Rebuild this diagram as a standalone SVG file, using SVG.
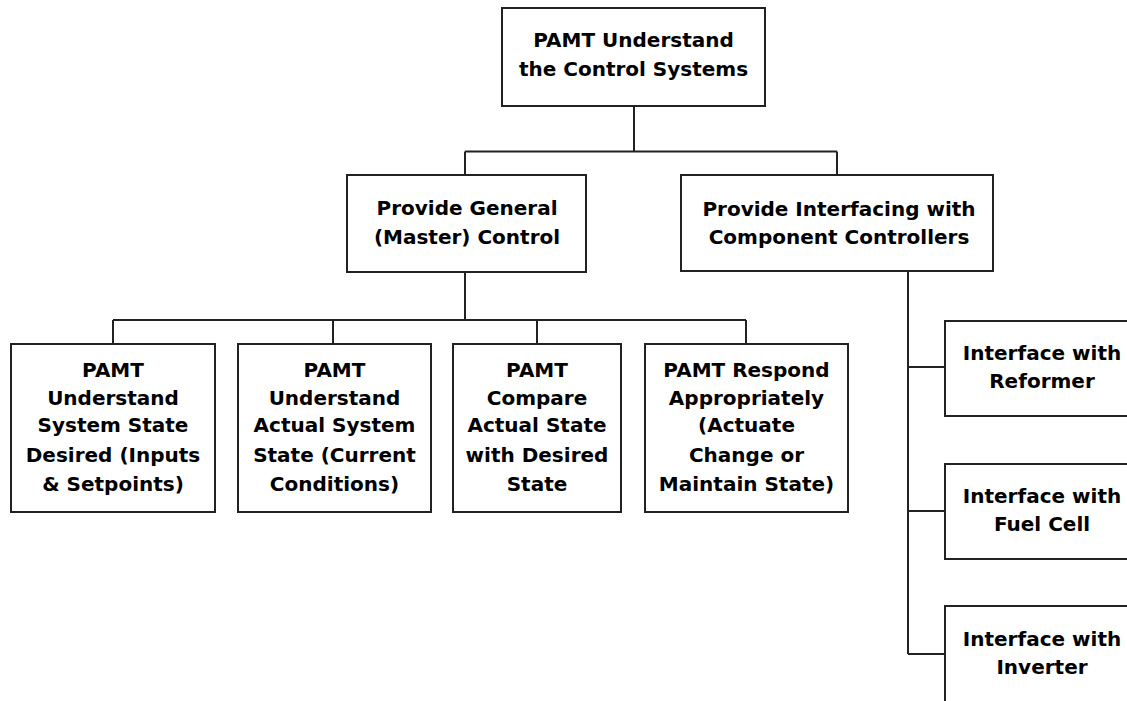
<svg xmlns="http://www.w3.org/2000/svg" width="1127" height="701" viewBox="0 0 1127 701">
  <style>
    .box { fill: #ffffff; stroke: #222222; stroke-width: 2; }
    .lbl { font-family: "DejaVu Sans", Verdana, sans-serif; font-weight: bold; font-size: 20px; fill: #000000; text-anchor: middle; }
    .wire { fill: none; stroke: #222222; stroke-width: 2; }
  </style>
  <rect width="1127" height="701" fill="#ffffff"/>

  <!-- connectors -->
  <g id="connectors">
    <path class="wire" d="M634,106 V151.5 M465,151.5 H837 M465,151.5 V175 M837,151.5 V175"/>
    <path class="wire" d="M465,272 V320 M113,320 H746 M113,320 V344 M333,320 V344 M537,320 V344 M746,320 V344"/>
    <path class="wire" d="M908,271 V654 M908,367 H945 M908,511 H945 M908,654 H945"/>
  </g>

  <g id="root">
    <rect class="box" x="502" y="8" width="263" height="98"/>
    <text class="lbl" x="633.5" y="47">PAMT Understand</text>
    <text class="lbl" x="633.5" y="76">the Control Systems</text>
  </g>

  <g id="general-control">
    <rect class="box" x="347" y="175" width="239" height="97"/>
    <text class="lbl" x="467" y="215">Provide General</text>
    <text class="lbl" x="467" y="243.5">(Master) Control</text>
  </g>

  <g id="interfacing">
    <rect class="box" x="681" y="175" width="312" height="96"/>
    <text class="lbl" x="839" y="216">Provide Interfacing with</text>
    <text class="lbl" x="839" y="243.5">Component Controllers</text>
  </g>

  <g id="desired-state">
    <rect class="box" x="11" y="344" width="204" height="168"/>
    <text class="lbl" x="113" y="377">PAMT</text>
    <text class="lbl" x="113" y="404.5">Understand</text>
    <text class="lbl" x="113" y="432">System State</text>
    <text class="lbl" x="113" y="462">Desired (Inputs</text>
    <text class="lbl" x="113" y="491">&amp; Setpoints)</text>
  </g>

  <g id="actual-state">
    <rect class="box" x="238" y="344" width="193" height="168"/>
    <text class="lbl" x="334.5" y="377">PAMT</text>
    <text class="lbl" x="334.5" y="404.5">Understand</text>
    <text class="lbl" x="334.5" y="432">Actual System</text>
    <text class="lbl" x="334.5" y="462">State (Current</text>
    <text class="lbl" x="334.5" y="491">Conditions)</text>
  </g>

  <g id="compare-state">
    <rect class="box" x="453" y="344" width="168" height="168"/>
    <text class="lbl" x="537" y="377">PAMT</text>
    <text class="lbl" x="537" y="404.5">Compare</text>
    <text class="lbl" x="537" y="432">Actual State</text>
    <text class="lbl" x="537" y="462">with Desired</text>
    <text class="lbl" x="537" y="491">State</text>
  </g>

  <g id="respond">
    <rect class="box" x="645" y="344" width="203" height="168"/>
    <text class="lbl" x="746.5" y="377">PAMT Respond</text>
    <text class="lbl" x="746.5" y="404.5">Appropriately</text>
    <text class="lbl" x="746.5" y="432">(Actuate</text>
    <text class="lbl" x="746.5" y="462">Change or</text>
    <text class="lbl" x="746.5" y="491">Maintain State)</text>
  </g>

  <g id="reformer">
    <rect class="box" x="945" y="321" width="200" height="95"/>
    <text class="lbl" x="1042" y="360">Interface with</text>
    <text class="lbl" x="1042" y="388">Reformer</text>
  </g>

  <g id="fuel-cell">
    <rect class="box" x="945" y="464" width="200" height="95"/>
    <text class="lbl" x="1042" y="503">Interface with</text>
    <text class="lbl" x="1042" y="531">Fuel Cell</text>
  </g>

  <g id="inverter">
    <rect class="box" x="945" y="606" width="200" height="110"/>
    <text class="lbl" x="1042" y="646">Interface with</text>
    <text class="lbl" x="1042" y="674">Inverter</text>
  </g>
</svg>
